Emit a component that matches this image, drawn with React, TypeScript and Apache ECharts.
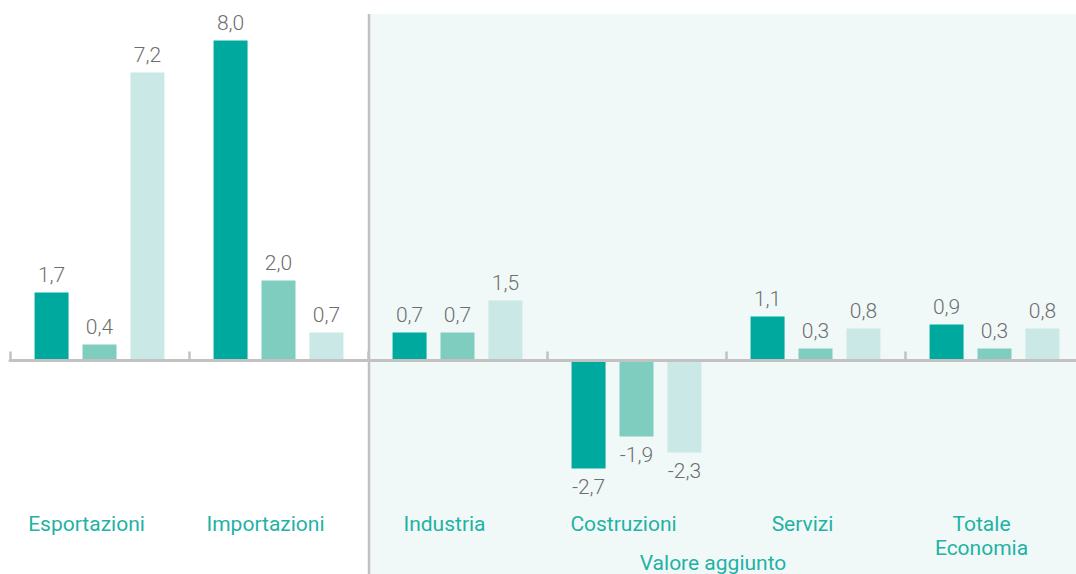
import React, { useEffect, useRef } from "react";
import * as echarts from "echarts";

const categories = ["Esportazioni", "Importazioni", "Industria", "Costruzioni", "Servizi", "Totale\nEconomia"];
const seriesA = [1.7, 8.0, 0.7, -2.7, 1.1, 0.9];
const seriesB = [0.4, 2.0, 0.7, -1.9, 0.3, 0.3];
const seriesC = [7.2, 0.7, 1.5, -2.3, 0.8, 0.8];
const seriesColors = ["#00a99d", "#7fcdbf", "#c9e8e6"];
const groupTitle = "Valore aggiunto";

const fmt = (v: number) => v.toFixed(1).replace(".", ",");

function makeSeries(vals: number[], color: string) {
  return {
    type: "bar",
    barWidth: 34,
    barGap: "41%",
    itemStyle: { color },
    z: 2,
    data: vals.map((v) => ({
      value: v,
      label: { position: v < 0 ? "bottom" : "top", distance: v < 0 ? 8 : 7 },
    })),
    label: {
      show: true,
      color: "#6e6e6e",
      fontFamily: "Roboto",
      fontWeight: 300,
      fontSize: 21,
      formatter: (p: any) => fmt(p.value),
    },
  };
}

export default function App() {
  const ref = useRef<HTMLDivElement>(null);
  useEffect(() => {
    if (!ref.current) return;
    const chart = echarts.init(ref.current, undefined, { renderer: "svg" });
    chart.setOption({
      animation: false,
      grid: { left: 10, top: 0.5, width: 1074, height: 508, containLabel: false, outerBoundsMode: "none" },
      xAxis: [
        {
          type: "category",
          data: categories,
          z: 5,
          axisLine: { onZero: true, lineStyle: { color: "#c2c2c2", width: 3 } },
          axisTick: { show: true, inside: true, length: 9, lineStyle: { color: "#c2c2c2", width: 2.5 } },
          axisLabel: { show: false },
          splitLine: { show: false },
        },
        {
          type: "category",
          data: categories,
          position: "bottom",
          axisLine: { show: false, onZero: false },
          axisTick: { show: false },
          splitLine: { show: false },
          axisLabel: {
            margin: 3.5,
            color: "#1fb2a5",
            fontFamily: "Roboto",
            fontSize: 21,
            lineHeight: 24,
            interval: 0,
            padding: [0, 26, 0, 0],
          },
        },
      ],
      yAxis: {
        type: "value",
        min: -3.7,
        max: 9,
        show: false,
        splitLine: { show: false },
      },
      graphic: [
        {
          type: "rect",
          z: -10,
          silent: true,
          shape: { x: 370, y: 14, width: 720, height: 580 },
          style: { fill: "#f1f9f8" },
        },
        {
          type: "line",
          z: 10,
          silent: true,
          shape: { x1: 369, y1: 14, x2: 369, y2: 580 },
          style: { stroke: "#c2c2c2", lineWidth: 2.5 },
        },
        {
          type: "text",
          z: 10,
          x: 713,
          y: 563,
          style: {
            text: groupTitle,
            fill: "#1fb2a5",
            font: "21px Roboto",
            textAlign: "center",
            textVerticalAlign: "middle",
          },
        },
      ],
      series: [
        makeSeries(seriesA, seriesColors[0]),
        makeSeries(seriesB, seriesColors[1]),
        makeSeries(seriesC, seriesColors[2]),
      ],
    });
    return () => chart.dispose();
  }, []);
  return (
    <div
      ref={ref}
      style={{ position: "absolute", left: 0, top: 0, width: 1076, height: 574, background: "#ffffff" }}
    />
  );
}
